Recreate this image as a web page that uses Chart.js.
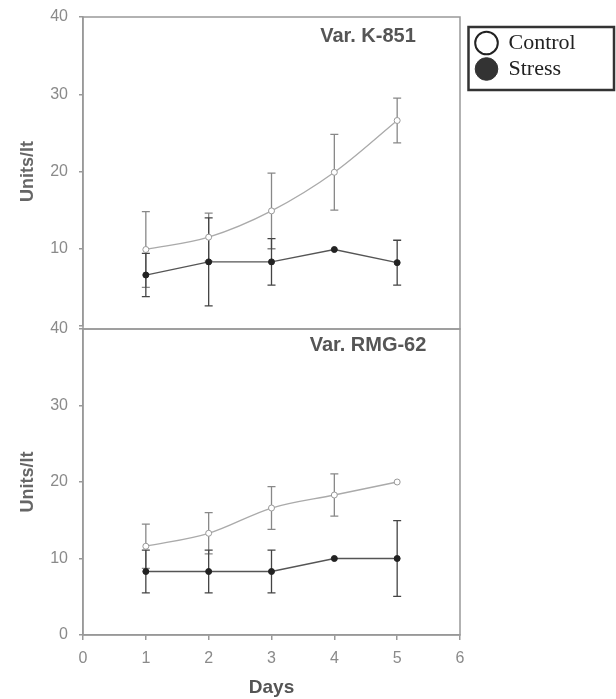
<!DOCTYPE html>
<html><head><meta charset="utf-8">
<script src="https://cdn.jsdelivr.net/npm/chart.js@4.4.1/dist/chart.umd.min.js"></script>
<style>
html,body{margin:0;padding:0;background:#fff;width:616px;height:699px;overflow:hidden;}
#wrap{position:relative;width:616px;height:699px;}
canvas{position:absolute;left:0;}
#c1{top:0;} #c2{top:300px;}
</style></head><body>
<div id="wrap"><canvas id="c1" width="616" height="340"></canvas><canvas id="c2" width="616" height="399"></canvas></div>
<script>
const days = [1, 2, 3, 4, 5];
const seriesNames = ['Control', 'Stress'];
const panelTitles = ['Var. K-851', 'Var. RMG-62'];
const yAxisTitle = 'Units/lt';
const xAxisTitle = 'Days';

const k851Control    = [9.9, 11.5, 14.9, 19.9, 26.6];
const k851ControlErr = [4.9, 3.1, 4.9, 4.9, 2.9];
const k851Stress     = [6.6, 8.3, 8.3, 9.9, 8.2];
const k851StressErr  = [2.8, 5.7, 3.0, 0, 2.9];

const rmgControl     = [11.6, 13.3, 16.6, 18.3, 20.0];
const rmgControlErr  = [2.9, 2.7, 2.8, 2.75, 0];
const rmgStress      = [8.3, 8.3, 8.3, 10.0, 10.0];
const rmgStressErr   = [2.8, 2.8, 2.8, 0, 4.95];

const FONT = "'Liberation Sans', Arial, sans-serif";
const SERIF = "'Liberation Serif', 'DejaVu Serif', serif";
const AXIS = '#999';
const TICKC = '#8a8a8a';

function pts(vals){ return days.map((d,i)=>({x:d, y:vals[i]})); }

function makeDatasets(ctrl, ctrlErr, str, strErr){
  return [
    {label: seriesNames[0], data: pts(ctrl), errors: ctrlErr, errColor:'#888',
     borderColor:'#aaa', borderWidth:1.3, pointRadius:3, pointBackgroundColor:'#fff',
     pointBorderColor:'#999', pointBorderWidth:1, cubicInterpolationMode:'monotone', fill:false},
    {label: seriesNames[1], data: pts(str), errors: strErr, errColor:'#444',
     borderColor:'#555', borderWidth:1.3, pointRadius:3, pointBackgroundColor:'#222',
     pointBorderColor:'#222', pointBorderWidth:1, tension:0, fill:false}
  ];
}

function panelPlugin(title, titleY, frameExtra){
  return {
    id: 'panel',
    beforeDatasetsDraw(chart){
      const {ctx, scales:{x, y}} = chart;
      ctx.save();
      chart.data.datasets.forEach(ds=>{
        ctx.strokeStyle = ds.errColor; ctx.lineWidth = 1.3;
        ds.data.forEach((p,i)=>{
          const e = ds.errors[i];
          if (!e) return;
          const px = x.getPixelForValue(p.x);
          const y1 = y.getPixelForValue(p.y + e), y2 = y.getPixelForValue(p.y - e);
          ctx.beginPath();
          ctx.moveTo(px, y1); ctx.lineTo(px, y2);
          ctx.moveTo(px-4, y1); ctx.lineTo(px+4, y1);
          ctx.moveTo(px-4, y2); ctx.lineTo(px+4, y2);
          ctx.stroke();
        });
      });
      ctx.restore();
    },
    afterDraw(chart){
      const {ctx, chartArea:a} = chart;
      ctx.save();
      ctx.strokeStyle = AXIS; ctx.lineWidth = 1.5;
      ctx.strokeRect(a.left, a.top, a.right - a.left, a.bottom + frameExtra - a.top);
      ctx.fillStyle = '#555';
      ctx.font = 'bold 20px ' + FONT;
      ctx.textAlign = 'center'; ctx.textBaseline = 'middle';
      ctx.fillText(title, 368, titleY);
      ctx.restore();
    }
  };
}

const legendPlugin = {
  id: 'legendPos',
  afterLayout(chart){
    const lg = chart.legend;
    if (!lg) return;
    lg.left = 471.5; lg.top = 28; lg.right = 616; lg.bottom = 100;
    lg.width = lg.right - lg.left; lg.height = lg.bottom - lg.top;
  },
  afterDraw(chart){
    const ctx = chart.ctx;
    ctx.save();
    ctx.strokeStyle = '#333'; ctx.lineWidth = 2.5;
    ctx.strokeRect(468.5, 27, 145.5, 63);
    ctx.restore();
  }
};

function yScale(hideZero){
  return {
    type:'linear', min:0, max:40,
    afterFit: s => { s.width = 83; s.paddingTop = 0; s.paddingBottom = 0; },
    ticks:{stepSize:10, color:TICKC, font:{family:FONT, size:16}, padding:11,
      callback: v => (hideZero && v === 0) ? '' : v},
    grid:{display:true, drawOnChartArea:false, drawTicks:true, tickLength:4, color:AXIS, lineWidth:1.5},
    border:{display:true, color:AXIS, width:1.5},
    title:{display:true, text:yAxisTitle, color:'#666', font:{family:FONT, size:18, weight:'bold'}, padding:{top:17, bottom:0}}
  };
}

new Chart(document.getElementById('c1'), {
  type:'line',
  data:{datasets: makeDatasets(k851Control, k851ControlErr, k851Stress, k851StressErr)},
  options:{
    responsive:false, animation:false, devicePixelRatio:1,
    layout:{autoPadding:false, padding:{left:0, top:17, right:156, bottom:14}},
    scales:{
      x:{type:'linear', min:0, max:6, display:false},
      y: yScale(true)
    },
    plugins:{
      tooltip:{enabled:false},
      legend:{
        display:true, position:'chartArea', align:'start',
        labels:{
          usePointStyle:true, boxWidth:23, boxHeight:16, padding:4,
          font:{family:SERIF, size:22}, color:'#222',
          generateLabels: () => [
            {text: seriesNames[0], fillStyle:'#fff', strokeStyle:'#222', lineWidth:2, pointStyle:'circle', fontColor:'#222', hidden:false, datasetIndex:0},
            {text: seriesNames[1], fillStyle:'#333', strokeStyle:'#333', lineWidth:1, pointStyle:'circle', fontColor:'#222', hidden:false, datasetIndex:1}
          ]
        }
      }
    }
  },
  plugins:[panelPlugin(panelTitles[0], 36, 3), legendPlugin]
});

new Chart(document.getElementById('c2'), {
  type:'line',
  data:{datasets: makeDatasets(rmgControl, rmgControlErr, rmgStress, rmgStressErr)},
  options:{
    responsive:false, animation:false, devicePixelRatio:1,
    layout:{autoPadding:false, padding:{left:0, top:29, right:156, bottom:0}},
    scales:{
      x:{type:'linear', min:0, max:6,
        afterFit: s => { s.height = 64; },
        ticks:{stepSize:1, color:TICKC, font:{family:FONT, size:16}, padding:9, autoSkip:false, maxRotation:0},
        grid:{display:true, drawOnChartArea:false, drawTicks:true, tickLength:5, color:AXIS, lineWidth:1.5},
        border:{display:true, color:AXIS, width:1.5},
        title:{display:true, text:xAxisTitle, color:'#555', font:{family:FONT, size:19, weight:'bold'}, padding:{top:0, bottom:0}}
      },
      y: yScale(false)
    },
    plugins:{tooltip:{enabled:false}, legend:{display:false}}
  },
  plugins:[panelPlugin(panelTitles[1], 45, 0)]
});
</script>
</body></html>
